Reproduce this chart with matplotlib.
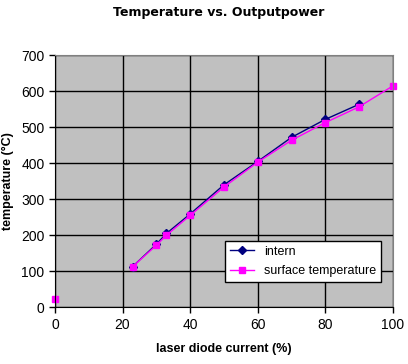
import matplotlib
matplotlib.use("Agg")
import matplotlib.pyplot as plt

# ── data ──────────────────────────────────────────────────────────────────────
intern_current = [23, 30, 33, 40, 50, 60, 70, 80, 90]
intern_temp = [113, 175, 205, 259, 340, 405, 472, 522, 564]

surface_current = [0, 23, 30, 33, 40, 50, 60, 70, 80, 90, 100]
surface_temp = [22, 113, 172, 200, 255, 334, 403, 464, 513, 557, 615]

x_ticks = [0, 20, 40, 60, 80, 100]
y_ticks = [0, 100, 200, 300, 400, 500, 600, 700]

plt.rcParams["font.family"] = ["Liberation Sans", "DejaVu Sans"]

fig = plt.figure(figsize=(4.08, 3.64), dpi=100)
ax = fig.add_axes([0.1346, 0.156, 0.963 - 0.1346, 0.848 - 0.156])
ax.set_facecolor("#C0C0C0")

ax.plot(intern_current, intern_temp, color="#000080", linewidth=1,
        marker="D", markersize=4, label="intern", clip_on=False)
# surface: the 0 % point stands alone, the rest is joined by a line
ax.plot(surface_current[1:], surface_temp[1:], color="#FF00FF", linewidth=1,
        marker="s", markersize=5, label="surface temperature", clip_on=False)
ax.plot(surface_current[:1], surface_temp[:1], color="#FF00FF", linestyle="none",
        marker="s", markersize=5, clip_on=False)

ax.set_xlim(0, 100)
ax.set_ylim(0, 700)
ax.set_xticks(x_ticks)
ax.set_yticks(y_ticks)
ax.grid(True, color="black", linewidth=1)
ax.set_axisbelow(True)
ax.tick_params(direction="out", length=4, width=1, labelsize=10, color="black")
for side in ("top", "right"):
    ax.spines[side].set_color("#808080")
for side in ("left", "bottom"):
    ax.spines[side].set_color("black")

ax.set_xlabel("laser diode current (%)", fontsize=9, fontweight="bold", labelpad=8)
ax.set_ylabel("temperature (°C)", fontsize=9, fontweight="bold", labelpad=5)
fig.text(0.537, 0.965, "Temperature vs. Outputpower", fontsize=9, fontweight="bold",
         family="DejaVu Sans", ha="center", va="center")

leg = ax.legend(loc="lower right", bbox_to_anchor=(0.9645, 0.099), borderaxespad=0,
                fontsize=9, frameon=True, fancybox=False, edgecolor="black",
                handlelength=1.9, borderpad=0.4, labelspacing=0.6)
leg.get_frame().set_linewidth(1)
leg.get_frame().set_facecolor("white")
leg.get_frame().set_alpha(1)

fig.savefig("out.png", dpi=100, facecolor="white")
